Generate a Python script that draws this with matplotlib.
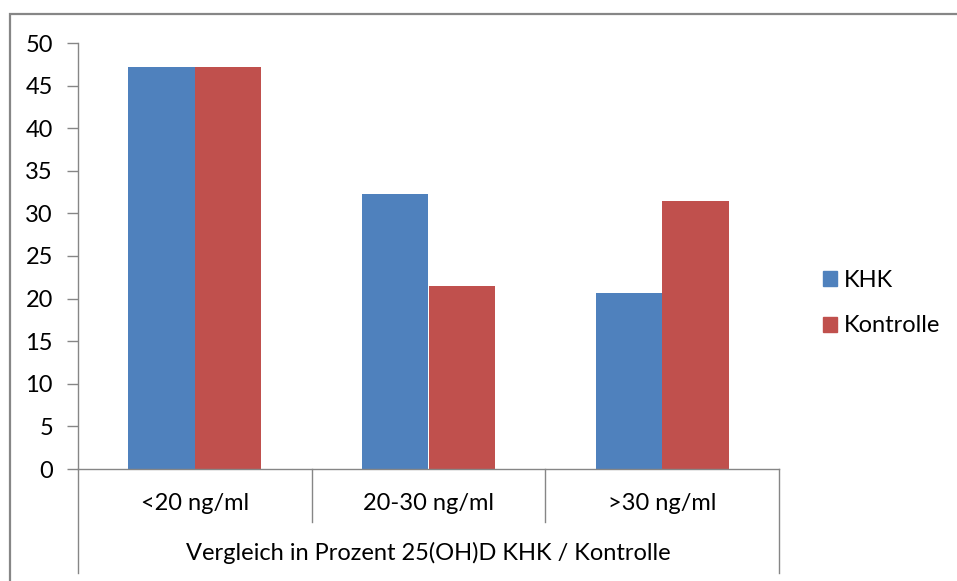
import matplotlib
matplotlib.use("Agg")
import matplotlib.pyplot as plt
from matplotlib.patches import Rectangle, Patch

plt.rcParams['font.family'] = ['Lato', 'DejaVu Sans']

categories = ["<20 ng/ml", "20-30 ng/ml", ">30 ng/ml"]
khk = [47.2, 32.3, 20.6]
kontrolle = [47.2, 21.5, 31.4]
series_names = ["KHK", "Kontrolle"]
group_label = "Vergleich in Prozent 25(OH)D KHK / Kontrolle"
yticks = [0, 5, 10, 15, 20, 25, 30, 35, 40, 45, 50]

W, H = 957, 581
blue = "#4F81BD"
red = "#C0504D"
grid_gray = "#868686"
fs = 17

fig = plt.figure(figsize=(W / 100, H / 100), dpi=100)

# outer chart frame (runs off the right and bottom edge)
fig.patches.append(Rectangle((10 / W, -0.05), 1.0, (H - 14) / H + 0.05,
                             transform=fig.transFigure, fill=False,
                             edgecolor=grid_gray, linewidth=1.6))

# plot area in pixel terms
x0, x1 = 78, 779
y_top, y_zero = 43, 469
ax = fig.add_axes([x0 / W, (H - y_zero) / H, (x1 - x0) / W, (y_zero - y_top) / H])

pos = range(len(categories))
bw = 0.285
ax.bar([p - bw / 2 for p in pos], khk, width=bw, color=blue, label=series_names[0])
ax.bar([p + bw / 2 for p in pos], kontrolle, width=bw, color=red, label=series_names[1])

ax.set_xlim(-0.5, len(categories) - 0.5)
ax.set_ylim(0, 50)
ax.set_yticks(yticks)
ax.tick_params(axis='y', length=8, width=1, color=grid_gray, labelsize=fs, pad=10)
ax.set_xticks([])
for side in ("top", "right"):
    ax.spines[side].set_visible(False)
for side in ("left", "bottom"):
    ax.spines[side].set_color(grid_gray)
    ax.spines[side].set_linewidth(1)

ph = y_zero - y_top
xt = ax.get_xaxis_transform()
# category separators and outer bounds of the grouped axis
for i in range(len(categories) + 1):
    edge = i - 0.5
    low = 573 if i in (0, len(categories)) else 522
    ax.plot([edge, edge], [0, -(low - y_zero) / ph], transform=xt,
            color=grid_gray, linewidth=1, clip_on=False)
for i, lab in enumerate(categories):
    ax.text(i, -(503 - y_zero) / ph, lab, transform=xt, ha='center',
            va='center', fontsize=fs)
ax.text((len(categories) - 1) / 2, -(553 - y_zero) / ph, group_label,
        transform=xt, ha='center', va='center', fontsize=fs)

handles = [Patch(color=blue), Patch(color=red)]
fig.legend(handles, series_names, loc='center left',
           bbox_to_anchor=(806 / W, (H - 303) / H), frameon=False,
           fontsize=fs, handlelength=0.6, handleheight=0.6,
           handletextpad=0.3, labelspacing=1.05, borderpad=0.2)

fig.savefig("out.png", dpi=100)
